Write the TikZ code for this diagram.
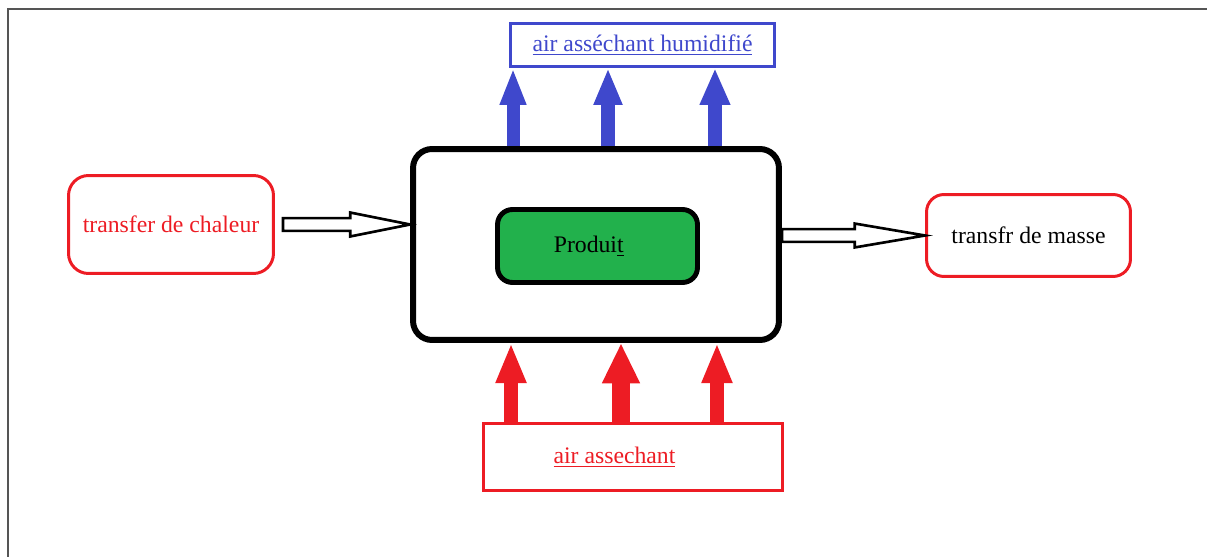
\documentclass[tikz,border=0pt]{standalone}
\usepackage{fontspec}
\setmainfont{Liberation Serif}
\usetikzlibrary{arrows.meta,calc}
\definecolor{paintred}{RGB}{237,28,36}
\definecolor{paintblue}{RGB}{63,72,204}
\definecolor{paintgreen}{RGB}{34,177,76}
\definecolor{framegray}{RGB}{85,85,85}

\begin{document}
\begin{tikzpicture}[x=0.02cm,y=-0.02cm,>=Latex, every node/.style={font=\fontsize{13.5}{16}\selectfont}]
\tikzset{box/.style={draw,line width=1.7pt,align=center,inner sep=1.5pt},
  blueup/.style={paintblue,line width=7.4pt,-{Triangle[width=13.7pt,length=21pt]}},
  redup/.style={paintred,line width=8.5pt,-{Triangle[width=16pt,length=22.8pt]}},
  hollow/.style={draw=black,fill=white,line width=1.5pt,line join=miter,
    to path={let \p1=(\tikztostart), \p2=(\tikztotarget) in
      (\x1,\y2+3.6pt) -- (\x2-#1,\y2+3.6pt) -- (\x2-#1,\y2+6.8pt) -- (\x2,\y2)
      -- (\x2-#1,\y2-6.8pt) -- (\x2-#1,\y2-3.6pt) -- (\x1,\y2-3.6pt) -- cycle}},
  hollow/.default=34pt}

\useasboundingbox (0,0) rectangle (1207,557);
\draw[framegray,line width=1.1pt] (8,557) -- (8,9) -- (1207,9);

\node[box,draw=black,line width=3.4pt,rounded corners=0.38cm,minimum width=7.32cm,minimum height=3.82cm] (chamber) at (596,244.5) {};
\node[box,draw=black,line width=2.8pt,fill=paintgreen,rounded corners=0.3cm,minimum width=4.0cm,minimum height=1.46cm] (prod) at (597.5,246) {Produi\underline{t}\hspace*{0.35cm}};
\node[box,draw=paintblue,text=paintblue,minimum width=5.28cm,minimum height=0.86cm] (hum) at (642.5,45) {\underline{air asséchant humidifié}};
\node[box,draw=paintred,text=paintred,minimum width=5.98cm,minimum height=1.34cm] (air) at (633,457) {\underline{air assechant}\hspace*{0.74cm}};
\node[box,draw=paintred,text=paintred,rounded corners=0.4cm,minimum width=4.1cm,minimum height=1.96cm] (chaleur) at (171,224.5) {transfer de chaleur};
\node[box,draw=paintred,rounded corners=0.35cm,minimum width=4.08cm,minimum height=1.64cm] (masse) at (1028.5,235.5) {transfr de masse};

% vapour leaving the chamber
\coordinate (b1) at ([xshift=-1.66cm]chamber.north);
\coordinate (b2) at ([xshift=0.24cm]chamber.north);
\coordinate (b3) at ([xshift=2.38cm]chamber.north);
\draw[blueup] (b1) -- (b1 |- hum.south);
\draw[blueup,line width=7.8pt,-{Triangle[width=15pt,length=21pt]}] (b2) -- (b2 |- hum.south);
\draw[blueup,line width=8.4pt,-{Triangle[width=16pt,length=21pt]}] (b3) -- (b3 |- hum.south);

% drying air entering the chamber
\coordinate (r1) at ([xshift=-1.70cm]chamber.south);
\coordinate (r2) at ([xshift=0.50cm]chamber.south);
\coordinate (r3) at ([xshift=2.42cm]chamber.south);
\draw[redup] (r1 |- air.north) -- (r1);
\draw[redup,line width=10.8pt,-{Triangle[width=20pt,length=23pt]}] (r2 |- air.north) -- (r2);
\draw[redup] (r3 |- air.north) -- (r3);

\draw[hollow] ([xshift=0.16cm]chaleur.east) to (chamber.west |- chaleur.east);
\draw[hollow=40pt] (chamber.east |- masse.west) to (masse.west);
\end{tikzpicture}
\end{document}
